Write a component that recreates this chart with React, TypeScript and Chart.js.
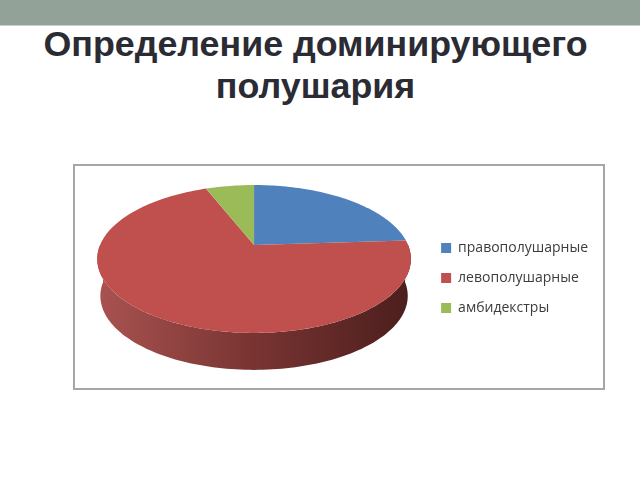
import { useEffect, useRef } from "react";
import { Chart, registerables } from "chart.js";

Chart.register(...registerables);

const TITLE_LINES = ["Определение доминирующего", "полушария"];
const categories = ["правополушарные", "левополушарные", "амбидекстры"];
const shares = [24, 70, 6];
const sliceColors = ["#4f81bd", "#c0504d", "#9bbb59"];

// perspective of the tilted disc, all relative to the pie radius
const TILT = 0.189;
const TOP_SQUASH = 0.463;
const RIM_WIDTH = 0.98;
const RIM_DROP = 0.24;

type Pt = [number, number];

function project(arc: any, angle: number, width: number, drop: number): Pt {
  const R = arc.outerRadius;
  const u = Math.cos(angle);
  const v = Math.sin(angle);
  const w = 1 - TILT * v;
  return [arc.x + (R * width * u) / w, arc.y + R * drop + (R * TOP_SQUASH * v) / w];
}

function sample(start: number, end: number) {
  const n = Math.max(2, Math.ceil((end - start) * 40));
  const out: number[] = [];
  for (let i = 0; i <= n; i++) out.push(start + ((end - start) * i) / n);
  return out;
}

// Draws the pie's own arcs through the perspective instead of flat circles
const tiltedPie = {
  id: "tiltedPie",
  beforeDatasetsDraw(chart: any) {
    const { ctx } = chart;
    const arcs = chart.getDatasetMeta(0).data;

    arcs.forEach((arc: any) => {
      const from = Math.max(arc.startAngle, 0);
      const to = Math.min(arc.endAngle, Math.PI);
      if (to <= from) return;
      const angles = sample(from, to);
      const R = arc.outerRadius;
      const grad = ctx.createLinearGradient(arc.x - R, 0, arc.x + R, 0);
      grad.addColorStop(0, "#a85250");
      grad.addColorStop(0.5, "#783432");
      grad.addColorStop(1, "#4c1f1d");
      ctx.beginPath();
      angles.forEach((a, j) => {
        const p = project(arc, a, 1, 0);
        j === 0 ? ctx.moveTo(p[0], p[1]) : ctx.lineTo(p[0], p[1]);
      });
      [...angles].reverse().forEach((a) => {
        const p = project(arc, a, RIM_WIDTH, RIM_DROP);
        ctx.lineTo(p[0], p[1]);
      });
      ctx.closePath();
      ctx.fillStyle = grad;
      ctx.fill();
    });

    arcs.forEach((arc: any, i: number) => {
      ctx.beginPath();
      ctx.moveTo(arc.x, arc.y);
      sample(arc.startAngle, arc.endAngle).forEach((a) => {
        const p = project(arc, a, 1, 0);
        ctx.lineTo(p[0], p[1]);
      });
      ctx.closePath();
      ctx.fillStyle = sliceColors[i];
      ctx.fill();
    });
    return false;
  },
};

export default function App() {
  const chartRef = useRef<HTMLCanvasElement>(null);

  useEffect(() => {
    document.body.style.margin = "0";
    if (!chartRef.current) return;
    const chart = new Chart(chartRef.current, {
      type: "pie",
      data: {
        labels: categories,
        datasets: [{ data: shares, backgroundColor: sliceColors, borderWidth: 0, radius: 154 }],
      },
      options: {
        responsive: false,
        animation: false,
        layout: { padding: { left: 8, right: 5, top: 13, bottom: 59 } },
        plugins: {
          tooltip: { enabled: false },
          legend: {
            position: "right",
            align: "end",
            labels: {
              boxWidth: 10,
              boxHeight: 10,
              padding: 16,
              color: "#3c3c3c",
              font: { family: "'Open Sans'", size: 14 },
            },
          },
        },
      },
      plugins: [tiltedPie],
    } as any);
    return () => chart.destroy();
  }, []);

  return (
    <div style={{ position: "relative", width: 640, height: 480, background: "#fff", overflow: "hidden" }}>
      <div style={{ position: "absolute", left: 0, top: 0, width: 640, height: 25, background: "#92a298", borderBottom: "1px solid #c5cfc9" }} />
      <div
        style={{
          position: "absolute",
          left: 0,
          top: 23,
          width: 631,
          textAlign: "center",
          fontFamily: "'Liberation Sans'",
          fontWeight: "bold",
          fontSize: 35.8,
          lineHeight: "42px",
          color: "#2b2b33",
        }}
      >
        {TITLE_LINES.map((line) => (
          <div key={line}>{line}</div>
        ))}
      </div>
      <div style={{ position: "absolute", left: 73, top: 164, width: 528, height: 222, border: "2px solid #a6a6a6" }} />
      <canvas ref={chartRef} width={528} height={244} style={{ position: "absolute", left: 75, top: 146, display: "block" }} />
    </div>
  );
}
